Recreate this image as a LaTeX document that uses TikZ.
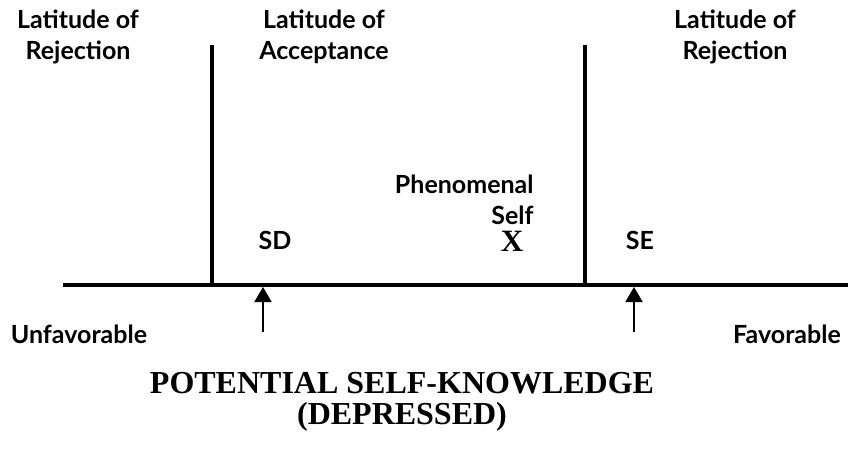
\documentclass[tikz,border=0pt]{standalone}
\usepackage{fontspec}
\setmainfont{Liberation Serif}
\newfontfamily\labelfont{Lato}
\usepackage{tikz}
\usetikzlibrary{arrows.meta}
\tikzset{lbl/.style={font=\labelfont\bfseries\fontsize{12.5}{15.5}\selectfont, align=center, inner sep=0pt}}
\tikzset{axis/.style={line width=2pt}}
\tikzset{pointer/.style={line width=1pt, -{Triangle[length=7.5pt, width=8.5pt]}, shorten >=1pt}}

\begin{document}
\begin{tikzpicture}[x=1.7573cm, y=1.7573cm]
\useasboundingbox (0,0) rectangle (8.48,4.6);
% base line and latitude borders
\coordinate (baseL) at (0.63,1.75); \coordinate (baseR) at (8.48,1.75);
\draw[axis] (baseL) -- (baseR);
\coordinate (borderL) at (2.12,4.15); \coordinate (borderR) at (5.85,4.15);
\draw[axis] (borderL) -- (borderL |- baseL);
\draw[axis] (borderR) -- (borderR |- baseL);
% latitudes
\node[lbl] (rejleft) at (0.78,4.23) {Latitude of\\Rejection};
\node[lbl] (accept) at (3.24,4.23) {Latitude of\\Acceptance};
\node[lbl] (rejright) at (7.35,4.23) {Latitude of\\Rejection};
% self positions
\node[lbl, align=right, anchor=south east] (phen) at (5.34,2.35) {Phenomenal\\Self};
\node[font=\bfseries\fontsize{15.5}{15.5}\selectfont, inner sep=0pt, anchor=base] (self) at (5.12,2.08) {X};
\node[lbl, anchor=base] (sd) at (2.75,2.10) {SD};
\node[lbl, anchor=base] (se) at (6.40,2.10) {SE};
% pointers
\coordinate (sdfoot) at (2.63,1.28); \coordinate (sefoot) at (6.34,1.28);
\draw[pointer] (sdfoot) -- (sdfoot |- baseL);
\draw[pointer] (sefoot) -- (sefoot |- baseL);
\node[lbl] (unfav) at (0.79,1.26) {Unfavorable};
\node[lbl] (fav) at (7.87,1.26) {Favorable};
% caption
\node[font=\bfseries\fontsize{16}{15.5}\selectfont, align=center, inner sep=0pt] (caption) at (4.02,0.58) {POTENTIAL SELF-KNOWLEDGE\\(DEPRESSED)};
\end{tikzpicture}
\end{document}
